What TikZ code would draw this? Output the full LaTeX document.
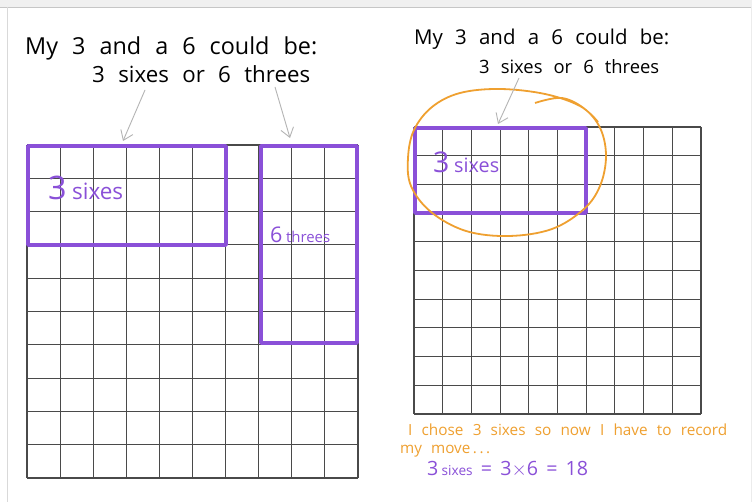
\documentclass[tikz,border=0pt]{standalone}
\usepackage{fontspec}
\setmainfont{Open Sans}
\usetikzlibrary{arrows.meta}
\definecolor{hwpurple}{HTML}{8A50D8}
\definecolor{hworange}{HTML}{EFA030}
\definecolor{gridc}{HTML}{4A4A4A}
\definecolor{arrowc}{HTML}{B4B4B4}
\newcommand{\fitw}[2]{\resizebox{#1pt}{!}{\spaceskip=0.6em plus 0.1em\relax #2}}
\tikzset{
  hw/.style={inner sep=0pt, anchor=base west},
  gridline/.style={draw=gridc, line width=1.1pt},
  box/.style={draw=hwpurple, line width=3.6pt, line join=round},
  pointer/.style={draw=arrowc, line width=0.9pt, -{Straight Barb[length=9pt,width=13pt]}},
  loopline/.style={draw=hworange, line width=1.8pt},
}
\begin{document}
\begin{tikzpicture}[x=1pt,y=-1pt]
\useasboundingbox (0,0) rectangle (752,502);
\fill[white] (0,0) rectangle (752,502);
\fill[gray!12] (0,0) rectangle (752,7);
\draw[gray!45, line width=0.8pt] (0,7) -- (752,7);
\draw[gray!30, line width=0.8pt] (7,7) -- (7,502);
\draw[gray!15, line width=0.8pt] (751,7) -- (751,502);

% left grid
\foreach \i in {0,...,10} {
  \draw[gridline] ({27+\i*33.1},145) -- ({27+\i*33.1},478);
  \draw[gridline] (27,{145+\i*33.3}) -- (358,{145+\i*33.3});
}
% right grid
\foreach \i in {0,...,10} {
  \draw[gridline] ({414+\i*28.7},127) -- ({414+\i*28.7},414);
  \draw[gridline] (414,{127+\i*28.7}) -- (701,{127+\i*28.7});
}

% purple boxes
\draw[box] (28,146) rectangle (226,245);
\draw[box] (261,146) rectangle (357,343);
\draw[box] (415,128) rectangle (586,213);

% orange loop
\draw[loopline] plot[smooth, tension=0.6] coordinates {
  (535,103) (562,98) (586,110) (601,130) (606,157) (600,186) (584,209)
  (552,229) (509,236) (466,231) (431,212) (411,186) (408,158) (414,130)
  (432,107) (460,93) (500,89) (545,94) (580,106) (598,122)};

% titles
\node[hw] (tl1) at (25,55) {\fitw{292}{My 3 and a 6 could be:}};
\node[hw] (tl2) at (92,83) {\fitw{218}{3 sixes or 6 threes}};
\node[hw] (tr1) at (414,45) {\fitw{255}{My 3 and a 6 could be:}};
\node[hw] (tr2) at (479,74) {\fitw{180}{3 sixes or 6 threes}};

% arrows
\coordinate (a1s) at (145,90);
\coordinate (a1e) at (123,141);
\coordinate (a2s) at (275,87);
\coordinate (a2e) at (290,138);
\coordinate (a3s) at (519,78);
\coordinate (a3e) at (498,124);
\draw[pointer] (a1s) -- (a1e);
\draw[pointer] (a2s) -- (a2e);
\draw[pointer] (a3s) -- (a3e);

% box labels
\node[hw, text=hwpurple] (l1) at (48,200) {\fitw{75}{\Large 3\,\normalsize sixes}};
\node[hw, text=hwpurple] (l2) at (270,243) {\fitw{60}{\Large 6\,\normalsize threes}};
\node[hw, text=hwpurple] (l3) at (433,173) {\fitw{66}{\Large 3\,\normalsize sixes}};

% notes
\node[hw, text=hworange] (n1) at (408,435) {\fitw{319}{I chose 3 sixes so now I have to record}};
\node[hw, text=hworange] (n2) at (400,453) {\fitw{90}{my move\,.\,.\,.}};
\node[hw, text=hwpurple] (n3) at (427,475) {\fitw{161}{\Large 3\,\normalsize sixes \Large= 3$\times$6 = 18}};
\end{tikzpicture}
\end{document}
